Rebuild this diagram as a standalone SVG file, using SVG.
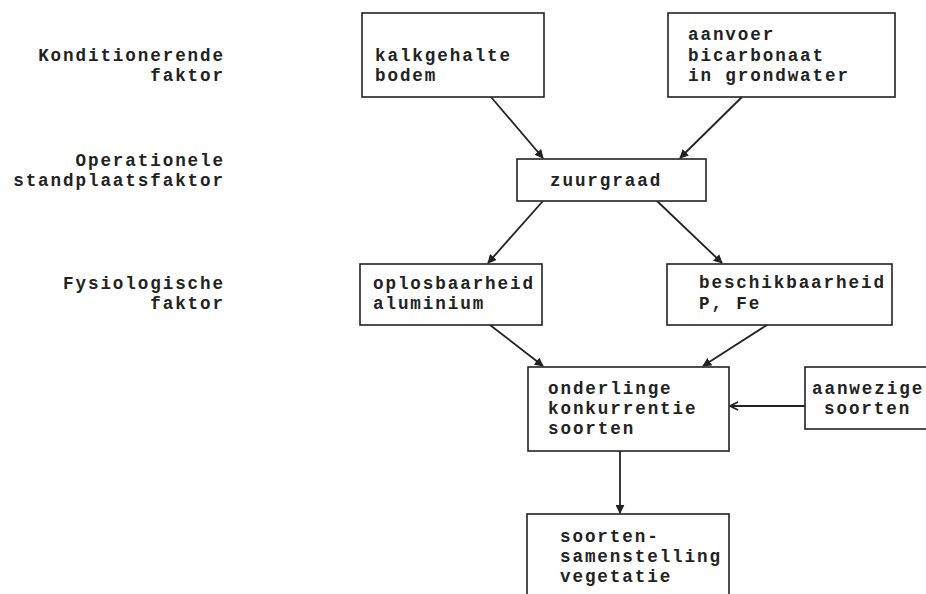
<svg xmlns="http://www.w3.org/2000/svg" width="926" height="594" viewBox="0 0 926 594">
<style>
text{font-family:"Liberation Mono","Courier New",monospace;font-weight:bold;font-size:17.6px;letter-spacing:1.9px;fill:#222}
.lbl{text-anchor:end}
rect{fill:#fff;stroke:#222;stroke-width:1.6}
.c line{stroke:#222;stroke-width:1.8}
</style>
<defs>
<marker id="ah" viewBox="0 0 10 10" refX="9" refY="5" markerWidth="9" markerHeight="9" markerUnits="userSpaceOnUse" orient="auto">
<path d="M0,0 L10,5 L0,10 Z" fill="#222"/>
</marker>
<marker id="ao" viewBox="0 0 10 10" refX="9" refY="5" markerWidth="10" markerHeight="10" markerUnits="userSpaceOnUse" orient="auto">
<path d="M1,1 L9,5 L1,9" fill="none" stroke="#222" stroke-width="1.8"/>
</marker>
</defs>
<rect x="0" y="0" width="926" height="594" style="stroke:none;fill:#fff"/>
<g id="labels">
<text class="lbl" x="225" y="61">Konditionerende</text>
<text class="lbl" x="225" y="81">faktor</text>
<text class="lbl" x="225" y="166">Operationele</text>
<text class="lbl" x="225" y="186">standplaatsfaktor</text>
<text class="lbl" x="225" y="289">Fysiologische</text>
<text class="lbl" x="225" y="309">faktor</text>
</g>
<g class="c" id="connectors">
<line x1="491" y1="97" x2="543" y2="158" marker-end="url(#ah)"/>
<line x1="742" y1="97" x2="680" y2="158" marker-end="url(#ah)"/>
<line x1="543" y1="201" x2="488" y2="263" marker-end="url(#ah)"/>
<line x1="657" y1="201" x2="722" y2="263" marker-end="url(#ah)"/>
<line x1="490" y1="325" x2="543" y2="366" marker-end="url(#ah)"/>
<line x1="767" y1="325" x2="703" y2="366" marker-end="url(#ah)"/>
<line x1="805" y1="406" x2="730" y2="406" marker-end="url(#ao)"/>
<line x1="620" y1="451" x2="620" y2="513" marker-end="url(#ah)"/>
</g>
<g id="kalkgehalte">
<rect x="362" y="13" width="182" height="84"/>
<text x="375" y="61">kalkgehalte</text>
<text x="375" y="81">bodem</text>
</g>
<g id="aanvoer">
<rect x="668" y="13" width="227" height="84"/>
<text x="688" y="40">aanvoer</text>
<text x="688" y="61">bicarbonaat</text>
<text x="688" y="81">in grondwater</text>
</g>
<g id="zuurgraad">
<rect x="517" y="159" width="189" height="42"/>
<text x="550" y="186">zuurgraad</text>
</g>
<g id="oplosbaarheid">
<rect x="360" y="264" width="182" height="61"/>
<text x="373" y="289">oplosbaarheid</text>
<text x="373" y="309">aluminium</text>
</g>
<g id="beschikbaarheid">
<rect x="667" y="264" width="225" height="61"/>
<text x="699" y="288">beschikbaarheid</text>
<text x="699" y="309">P, Fe</text>
</g>
<g id="onderlinge">
<rect x="528" y="367" width="201" height="84"/>
<text x="548" y="394">onderlinge</text>
<text x="548" y="414">konkurrentie</text>
<text x="548" y="434">soorten</text>
</g>
<g id="aanwezige">
<rect x="805" y="367" width="130" height="62"/>
<text x="812" y="394">aanwezige</text>
<text x="824" y="414">soorten</text>
</g>
<g id="soortensamenstelling">
<rect x="527" y="514" width="202" height="90"/>
<text x="560" y="542">soorten-</text>
<text x="560" y="562">samenstelling</text>
<text x="560" y="582">vegetatie</text>
</g>
</svg>
